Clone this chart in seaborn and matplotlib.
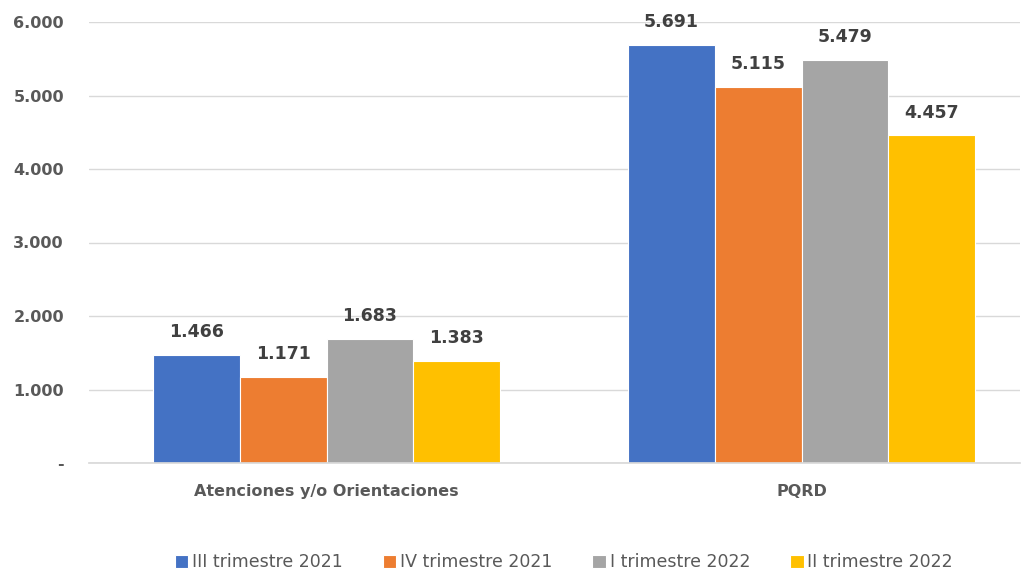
import pandas as pd
import matplotlib.pyplot as plt
import seaborn as sns
from matplotlib.ticker import FuncFormatter

categorias = ["Atenciones y/o Orientaciones", "PQRD"]
periodos = ["III trimestre 2021", "IV trimestre 2021", "I trimestre 2022", "II trimestre 2022"]
valores = {
    "III trimestre 2021": [1466, 5691],
    "IV trimestre 2021": [1171, 5115],
    "I trimestre 2022": [1683, 5479],
    "II trimestre 2022": [1383, 4457],
}
colores = ["#4472C4", "#ED7D31", "#A5A5A5", "#FFC000"]

rows = []
for p in periodos:
    for c, v in zip(categorias, valores[p]):
        rows.append({"categoria": c, "periodo": p, "valor": v})
df = pd.DataFrame(rows)

sns.set_theme(style="white")
plt.rcParams['font.family'] = ['DejaVu Sans']

fig = plt.figure(figsize=(10.26, 5.71), dpi=100)
ax = fig.add_axes([89 / 1026, 1 - 463 / 571, (1020 - 89) / 1026, (463 - 22) / 571])

sns.barplot(data=df, x="categoria", y="valor", hue="periodo", order=categorias,
            hue_order=periodos, palette=colores, width=0.73, saturation=1,
            edgecolor="white", linewidth=0.8, ax=ax)

ax.set_ylim(0, 6000)
ax.set_xlim(-0.5, 1.46)
ax.set_yticks(range(0, 6001, 1000))

def fmt(v, pos):
    if v == 0:
        return "-"
    return f"{int(v):,}".replace(",", ".")

ax.yaxis.set_major_formatter(FuncFormatter(fmt))
ax.grid(axis="y", color="#D9D9D9", linewidth=1)
ax.set_axisbelow(True)
for s in ["top", "right", "left"]:
    ax.spines[s].set_visible(False)
ax.spines["bottom"].set_color("#D9D9D9")
ax.tick_params(axis="both", length=0)
ax.tick_params(axis="y", pad=18, labelsize=11.5, labelcolor="#595959")
ax.tick_params(axis="x", pad=15, labelsize=11.5, labelcolor="#595959")
for t in ax.get_yticklabels() + ax.get_xticklabels():
    t.set_fontweight("bold")
ax.set_xlabel("")
ax.set_ylabel("")

for cont in ax.containers:
    labels = [f"{int(b.get_height()):,}".replace(",", ".") for b in cont]
    ax.bar_label(cont, labels=labels, padding=10, fontsize=12.5, fontweight="bold", color="#404040")

ax.legend(loc="center", bbox_to_anchor=(0.51, -0.225), ncol=4, frameon=False,
          fontsize=12.5, labelcolor="#595959", handlelength=0.8, handleheight=0.8,
          handletextpad=0.2, columnspacing=2.3)

fig.savefig("out.png", dpi=100)
